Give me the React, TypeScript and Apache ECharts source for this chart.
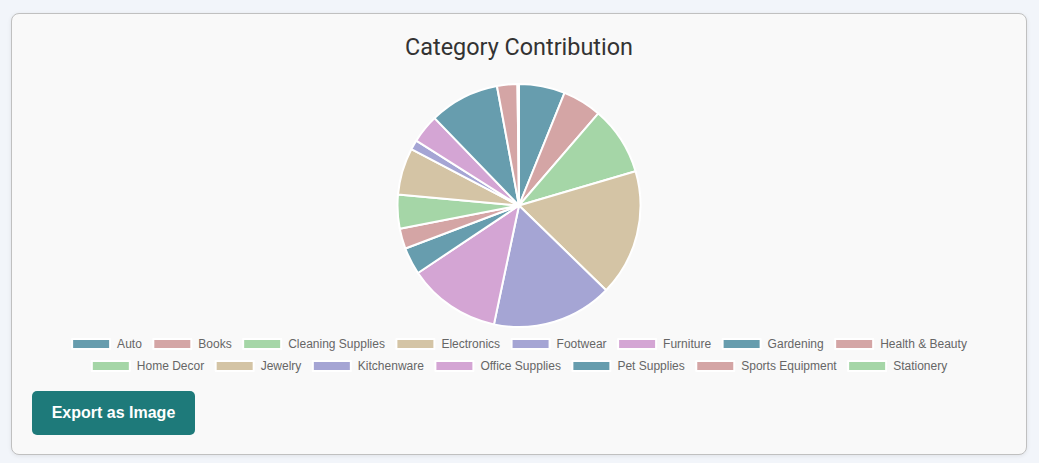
import React, { useEffect, useRef } from "react";
import * as echarts from "echarts";

const categories = [
  "Auto", "Books", "Cleaning Supplies", "Electronics", "Footwear", "Furniture",
  "Gardening", "Health & Beauty", "Home Decor", "Jewelry", "Kitchenware",
  "Office Supplies", "Pet Supplies", "Sports Equipment", "Stationery",
];
const values = [6.1, 5.2, 9.1, 16.8, 16.0, 12.3, 3.6, 2.7, 4.5, 6.2, 1.3, 3.8, 9.3, 2.7, 0.2];
const palette = ["#679dae", "#d4a5a5", "#a5d6a7", "#d4c4a5", "#a5a5d4", "#d4a5d4"];
const legendRow1 = categories.slice(0, 8);
const legendRow2 = categories.slice(8);

export default function App() {
  const ref = useRef<HTMLDivElement>(null);
  useEffect(() => {
    if (!ref.current) return;
    const chart = echarts.init(ref.current, undefined, { renderer: "svg" });
    const legendCommon = {
      left: "center",
      orient: "horizontal" as const,
      itemWidth: 38,
      itemHeight: 10,
      itemGap: 10.5,
      icon: "rect",
      textStyle: { color: "#666", fontSize: 12, fontFamily: "Liberation Sans, Arial, sans-serif", padding: [0, 0, 0, 2] },
    };
    chart.setOption({
      animation: false,
      color: palette,
      title: {
        text: "Category Contribution",
        left: "center",
        top: 16,
        textStyle: { fontFamily: "Roboto", fontSize: 23.4, fontWeight: "normal", color: "#333" },
      },
      legend: [
        { ...legendCommon, top: 319, data: legendRow1 },
        { ...legendCommon, top: 341, data: legendRow2 },
      ],
      series: [
        {
          type: "pie",
          center: [507, 191.5],
          radius: 121.5,
          startAngle: 90,
          clockwise: true,
          label: { show: false },
          labelLine: { show: false },
          itemStyle: { borderColor: "#fff", borderWidth: 2 },
          data: categories.map((c, i) => ({ name: c, value: values[i] })),
        },
      ],
    });
    return () => chart.dispose();
  }, []);

  return (
    <div style={{ position: "fixed", inset: 0, background: "#f2f5fa" }}>
      <div
        style={{
          position: "absolute",
          left: 11,
          top: 13,
          width: 1014,
          height: 440,
          border: "1px solid #c0c0c0",
          borderRadius: 8,
          background: "#f9f9f9",
          boxShadow: "0 1px 4px rgba(0,0,0,0.08)",
        }}
      >
        <div ref={ref} style={{ position: "absolute", left: 0, top: 0, width: 1014, height: 375 }} />
        <button
          style={{
            position: "absolute",
            left: 20,
            top: 377,
            width: 163,
            height: 44,
            border: "none",
            borderRadius: 5,
            background: "#1e7a7a",
            color: "#fff",
            fontFamily: "Liberation Sans, Arial, sans-serif",
            fontWeight: "bold",
            fontSize: 16,
            padding: 0,
          }}
        >
          Export as Image
        </button>
      </div>
    </div>
  );
}
